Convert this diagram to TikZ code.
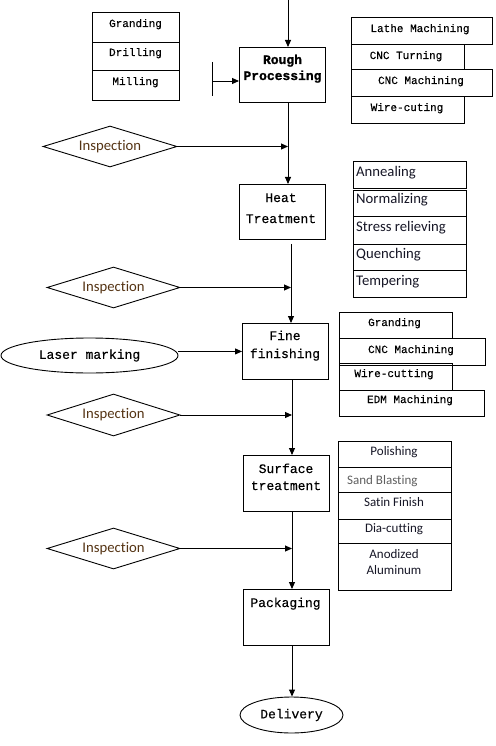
\documentclass[tikz,border=0pt]{standalone}
\usepackage{fontspec}
\usetikzlibrary{shapes.geometric,arrows.meta,calc}
\newfontfamily\monof[FakeBold=0.3]{Liberation Mono}
\newfontfamily\monobf[FakeBold=1.2]{Liberation Mono Bold}
\newfontfamily\calf[Ligatures=NoCommon]{Carlito}
\definecolor{navytxt}{RGB}{22,22,38}
\definecolor{browntxt}{RGB}{85,52,20}
\definecolor{graytxt}{RGB}{95,95,95}
\begin{document}
\begin{tikzpicture}[x=1pt,y=-1pt,
  box/.style={draw,line width=0.9pt,rectangle,anchor=north west,inner sep=0pt},
  mt/.style={font=\monof\fontsize{11}{13}\selectfont,inner sep=0pt,anchor=base},
  bt/.style={font=\monof\fontsize{13}{16}\selectfont,inner sep=0pt,anchor=base,align=center},
  ct/.style={font=\calf\fontsize{14.7}{16}\selectfont,inner sep=0pt,anchor=base west,text=navytxt},
  cs/.style={font=\calf\fontsize{13}{16}\selectfont,inner sep=0pt,anchor=base,text=navytxt,align=center},
  dia/.style={draw,line width=0.9pt,diamond,aspect=3.2,minimum width=133pt,minimum height=41pt,inner sep=0pt,
    font=\calf\fontsize{14.7}{16}\selectfont,text=browntxt},
  ell/.style={draw,line width=0.9pt,ellipse,inner sep=0pt,font=\monof\fontsize{13}{16}\selectfont},
  arr/.style={line width=0.9pt,-{Triangle[length=7pt,width=6pt]}},
  ln/.style={line width=0.9pt}
]
\fill[white] (0,0) rectangle (495,746);
\useasboundingbox (0,0) rectangle (495,746);

% top-left list
\node[box,minimum width=87pt,minimum height=30pt] (gr) at (92,12) {};
\node[box,minimum width=87pt,minimum height=28pt] (dr) at (92,42) {};
\node[box,minimum width=87pt,minimum height=30pt] (mi) at (92,70) {};
\node[mt] (grt) at (135.5,27) {Granding};
\node[mt] (drt) at (135.5,56) {Drilling};
\node[mt] (mit) at (135.5,85) {Milling};

% Rough processing
\node[box,minimum width=86pt,minimum height=55pt] (rough) at (239,47) {};
\node[bt,font=\monobf\fontsize{13}{16}\selectfont] (rought) at (282.5,80) {Rough\\Processing};
\coordinate (barT) at (212,62);
\coordinate (barB) at (212,96);
\coordinate (barM) at (212,81);
\draw[ln] (barT) -- (barB);
\draw[arr] (barM) -- (barM -| rough.west);

% right list 1
\node[box,minimum width=141pt,minimum height=27pt] (l1) at (351,17) {};
\node[box,minimum width=113pt,minimum height=25pt] (l2) at (351,44) {};
\node[box,minimum width=141pt,minimum height=27pt] (l3) at (351,69) {};
\node[box,minimum width=113pt,minimum height=27pt] (l4) at (351,96) {};
\node[mt] (l1t) at (420,32) {Lathe Machining};
\node[mt] (l2t) at (406,59) {CNC Turning};
\node[mt] (l3t) at (421,84) {CNC Machining};
\node[mt] (l4t) at (407,111) {Wire-cuting};

% Heat treatment
\node[box,minimum width=86pt,minimum height=55pt] (heat) at (239,184) {};
\node[bt] (heatt) at (281,223) {Heat\\[5pt]Treatment};

% heat list
\node[box,minimum width=113pt,minimum height=27pt] (h1) at (353,161) {};
\node[box,minimum width=113pt,minimum height=26pt] (h2) at (353,189.5) {};
\node[box,minimum width=113pt,minimum height=28pt] (h3) at (353,215.5) {};
\node[box,minimum width=113pt,minimum height=26pt] (h4) at (353,243.5) {};
\node[box,minimum width=113pt,minimum height=27pt] (h5) at (353,269.5) {};
\node[ct] (h1t) at (356,177) {Annealing};
\node[ct] (h2t) at (356,204) {Normalizing};
\node[ct] (h3t) at (356,231) {Stress relieving};
\node[ct] (h4t) at (356,258) {Quenching};
\node[ct] (h5t) at (356,285) {Tempering};

% Fine finishing
\node[box,minimum width=86pt,minimum height=56pt] (fine) at (242,323) {};
\node[bt] (finet) at (285,358) {Fine\\[2pt]finishing};
\node[ell,minimum width=177pt,minimum height=35pt] (laser) at (89.5,355.5) {Laser marking};

% fine list
\node[box,minimum width=113pt,minimum height=26pt] (f1) at (339,312) {};
\node[box,minimum width=146pt,minimum height=27pt] (f2) at (339,338) {};
\node[box,minimum width=113pt,minimum height=27pt] (f3) at (339,363) {};
\node[box,minimum width=145pt,minimum height=26pt] (f4) at (339,390) {};
\node[mt] (f1t) at (394.5,326) {Granding};
\node[mt] (f2t) at (411,353) {CNC Machining};
\node[mt] (f3t) at (394,377) {Wire-cutting};
\node[mt] (f4t) at (410,403) {EDM Machining};

% Surface treatment
\node[box,minimum width=86pt,minimum height=56pt] (surf) at (243,455) {};
\node[bt] (surft) at (286,490) {Surface\\[1pt]treatment};

% surface list
\node[box,minimum width=113pt,minimum height=26pt] (s1) at (338,441) {};
\node[box,minimum width=113pt,minimum height=25pt] (s2) at (338,467) {};
\node[box,minimum width=113pt,minimum height=27pt] (s3) at (338,492) {};
\node[box,minimum width=113pt,minimum height=24pt] (s4) at (338,519) {};
\node[box,minimum width=113pt,minimum height=47pt] (s5) at (338,543) {};
\node[cs] (s1t) at (394,455) {Polishing};
\node[cs,anchor=base west,text=graytxt] (s2t) at (347,484) {Sand Blasting};
\node[cs] (s3t) at (394,506) {Satin Finish};
\node[cs] (s4t) at (394,532) {Dia-cutting};
\node[cs] (s5t) at (394,574) {Anodized\\Aluminum};

% Packaging and delivery
\node[box,minimum width=86pt,minimum height=56pt] (pack) at (243,589) {};
\node[bt] (packt) at (285.5,607) {Packaging};
\node[ell,minimum width=103pt,minimum height=36pt] (deliv) at (291.5,715) {Delivery};

% inspections
\node[dia,minimum width=134pt] (ins1) at (110,146.5) {Inspection};
\node[dia] (ins2) at (113.5,287.5) {Inspection};
\node[dia,minimum height=42pt] (ins3) at (113.5,415) {Inspection};
\node[dia] (ins4) at (113.5,548.5) {Inspection};

% connectors
\coordinate (c1) at (288,0);
\coordinate (c2) at (291,0);
\coordinate (c3) at (292,0);
\draw[arr] (c1) -- (c1 |- rough.north);
\draw[arr] (rough.south -| c1) -- (heat.north -| c1);
\draw[arr] (ins1.east) -- (ins1.east -| c1);
\draw[arr] ([yshift=-4pt]heat.south -| c2) -- (fine.north -| c2);
\draw[arr] (ins2.east) -- (ins2.east -| c2);
\draw[arr] (laser.east |- fine.west) -- (fine.west);
\draw[arr] (fine.south -| c3) -- (surf.north -| c3);
\draw[arr] (ins3.east) -- (ins3.east -| c3);
\draw[arr] (surf.south -| c3) -- (pack.north -| c3);
\draw[arr] (ins4.east) -- (ins4.east -| c3);
\draw[arr] (pack.south -| c3) -- (deliv.north -| c3);
\end{tikzpicture}
\end{document}
